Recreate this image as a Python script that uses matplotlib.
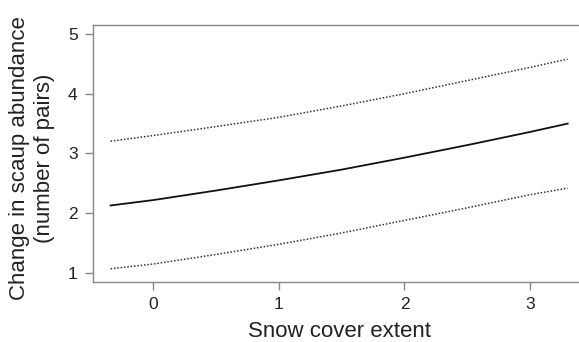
import matplotlib
matplotlib.use("Agg")
from matplotlib import pyplot as plt

plt.rcParams['font.family'] = ['Liberation Sans', 'DejaVu Sans']

# values
snow = [-0.34, 0, 0.5, 1, 1.5, 2, 2.5, 3, 3.30]
fit = [2.13, 2.22, 2.38, 2.55, 2.73, 2.93, 3.14, 3.36, 3.50]
upper = [3.205, 3.30, 3.45, 3.605, 3.795, 4.0, 4.22, 4.44, 4.58]
lower = [1.07, 1.15, 1.31, 1.48, 1.67, 1.88, 2.09, 2.31, 2.42]
xticks = [0, 1, 2, 3]
yticks = [1, 2, 3, 4, 5]

fig = plt.figure(figsize=(5.79, 3.42), dpi=100)
ax = fig.add_axes([93/579, 1-282/342, 1-93/579, (282-25)/342])

ax.plot(snow, fit, color='#111111', lw=1.3)
ax.plot(snow, upper, color='#333333', lw=1.1, ls=(0, (1, 1.2)))
ax.plot(snow, lower, color='#333333', lw=1.1, ls=(0, (1, 1.2)))

ax.set_xlim(-0.48, 3.39)
ax.set_ylim(0.849, 5.15)
ax.set_xticks(xticks)
ax.set_yticks(yticks)
ax.spines['right'].set_visible(False)
for s in ['left', 'bottom', 'top']:
    ax.spines[s].set_color('#888888')
    ax.spines[s].set_linewidth(1.0)
ax.tick_params(length=6, width=1, color='#888888', labelsize=12.5,
               labelcolor='#222222', pad=5)

ax.set_xlabel('Snow cover extent', fontsize=16, color='#222222')
ax.xaxis.set_label_coords((340-93)/(579-93), -0.15)
fig.text(32/579, 1-158/342, 'Change in scaup abundance\n(number of pairs)',
         rotation=90, ha='center', va='center', multialignment='center',
         fontsize=16, color='#222222', linespacing=1.3)

fig.savefig('out.png', dpi=100)
